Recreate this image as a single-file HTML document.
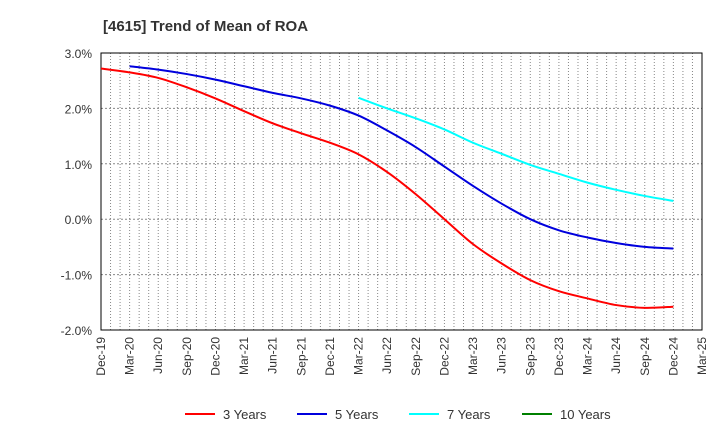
<!DOCTYPE html>
<html><head><meta charset="utf-8"><style>
body{margin:0;background:#fff;font-family:"Liberation Sans",sans-serif;}
svg text{font-family:"Liberation Sans",sans-serif;}
</style></head><body>
<svg width="720" height="440">
<text x="103" y="31" font-size="15" font-weight="bold" fill="#333">[4615]  Trend of Mean of ROA</text>
<g id="grid"></g>
<rect x="101" y="53" width="601" height="277" fill="none" stroke="#000" stroke-width="1"/>
<g id="ylabels"></g><g id="xlabels"></g><g id="series"></g><g id="legend"></g>
</svg>
<script>
const xLabels=["Dec-19","Mar-20","Jun-20","Sep-20","Dec-20","Mar-21","Jun-21","Sep-21","Dec-21","Mar-22","Jun-22","Sep-22","Dec-22","Mar-23","Jun-23","Sep-23","Dec-23","Mar-24","Jun-24","Sep-24","Dec-24","Mar-25"];
const yTicks=[3,2,1,0,-1,-2];
const yTickLabels=["3.0%","2.0%","1.0%","0.0%","-1.0%","-2.0%"];
const s3=[2.72,2.65,2.55,2.38,2.18,1.95,1.73,1.55,1.38,1.17,0.85,0.45,0.0,-0.45,-0.8,-1.1,-1.3,-1.43,-1.55,-1.6,-1.58];
const s5=[null,2.76,2.70,2.62,2.52,2.40,2.28,2.18,2.05,1.87,1.60,1.30,0.95,0.60,0.28,0.0,-0.2,-0.33,-0.43,-0.50,-0.53];
const s7=[null,null,null,null,null,null,null,null,null,2.19,2.0,1.82,1.62,1.38,1.18,0.98,0.82,0.66,0.53,0.42,0.33];
const s10=[];
const seriesNames=["3 Years","5 Years","7 Years","10 Years"];
const colors=["#ff0000","#0000dd","#00ffff","#008000"];
const L=101,R=702,T=53,B=330;
const xs=i=>L+(R-L)*i/21, ys=v=>T+(3-v)*(B-T)/5;
const NS="http://www.w3.org/2000/svg";
function mk(tag,attrs,parent){const e=document.createElementNS(NS,tag);for(const k in attrs)e.setAttribute(k,attrs[k]);document.getElementById(parent).appendChild(e);return e;}
for(let m=1;m<63;m++){const x=L+(R-L)*m/63;
const g=mk("line",{x1:x,x2:x,y1:T,y2:B,stroke:"#888","stroke-width":1,"stroke-dasharray":"1,2"},"grid");

}
yTicks.forEach((v,i)=>{const y=ys(v);
const g=mk("line",{x1:L,x2:R,y1:y,y2:y,stroke:"#888","stroke-width":1,"stroke-dasharray":"2,2"},"grid");


const t=mk("text",{x:92,y:y+5,"text-anchor":"end","font-size":12,fill:"#333"},"ylabels");t.textContent=yTickLabels[i];

});
xLabels.forEach((l,i)=>{const x=xs(i);
const t=mk("text",{x:x+4,y:337,"text-anchor":"end","font-size":12,fill:"#333",transform:`rotate(-90 ${x+4} 337)`},"xlabels");t.textContent=l;

});
function path(data){const p=[];data.forEach((v,i)=>{if(v!=null)p.push([xs(i),ys(v)]);});if(p.length<2)return "";
let d=`M${p[0][0]},${p[0][1]}`;for(let i=0;i<p.length-1;i++){const p0=p[i-1]||p[i],p1=p[i],p2=p[i+1],p3=p[i+2]||p2;
d+=` C${p1[0]+(p2[0]-p0[0])/6},${p1[1]+(p2[1]-p0[1])/6} ${p2[0]-(p3[0]-p1[0])/6},${p2[1]-(p3[1]-p1[1])/6} ${p2[0]},${p2[1]}`;}return d;}
[s3,s5,s7,s10].forEach((s,i)=>{const d=path(s);if(!d)return;
const e=mk("path",{d:d,fill:"none",stroke:colors[i],"stroke-width":2},"series");

});
const lx=[185,297,409,522];
seriesNames.forEach((n,i)=>{
const l=mk("line",{x1:lx[i],x2:lx[i]+30,y1:414,y2:414,stroke:colors[i],"stroke-width":2},"legend");


const t=mk("text",{x:lx[i]+38,y:419,"font-size":13,fill:"#333"},"legend");t.textContent=n;

});
</script>
</body></html>
